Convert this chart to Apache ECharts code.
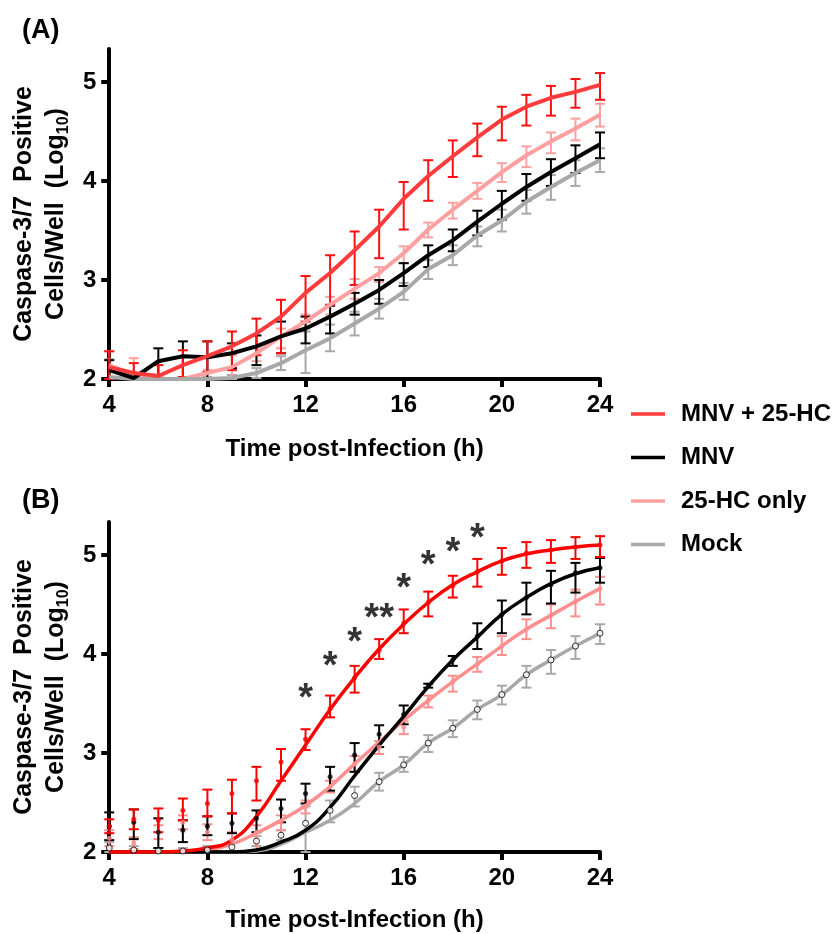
<!DOCTYPE html>
<html><head><meta charset="utf-8">
<script src="https://cdn.jsdelivr.net/npm/echarts@6/dist/echarts.min.js"></script>
<style>html,body{margin:0;padding:0;background:#fff}#c{width:834px;height:934px}</style>
</head><body><div id="c"></div>
<script>
// ---------- data ----------
const hours = [4,5,6,7,8,9,10,11,12,13,14,15,16,17,18,19,20,21,22,23,24];
const xTicks = [4,8,12,16,20,24];
const yTicks = [2,3,4,5];
const groupNames = ['MNV + 25-HC','MNV','25-HC only','Mock'];
const xTitle = 'Time post-Infection (h)';

// Panel A (mean, upper and lower error bar ends)
const aRed   = [2.12,2.06,2.03,2.14,2.23,2.33,2.46,2.63,2.87,3.07,3.30,3.54,3.82,4.05,4.25,4.44,4.62,4.75,4.84,4.90,4.97];
const aRedHi = [2.28,2.16,2.14,2.29,2.38,2.48,2.61,2.80,3.04,3.25,3.49,3.71,3.99,4.21,4.41,4.58,4.75,4.87,4.96,5.03,5.09];
const aRedLo = [2.00,2.00,2.00,2.02,2.07,2.09,2.24,2.26,2.58,2.75,2.95,3.22,3.51,3.80,4.04,4.25,4.41,4.56,4.66,4.74,4.82];
const aMnv   = [2.09,2.01,2.18,2.23,2.22,2.26,2.33,2.43,2.51,2.63,2.76,2.90,3.07,3.25,3.40,3.59,3.77,3.94,4.09,4.23,4.37];
const aMnvHi = [2.19,2.04,2.31,2.38,2.38,2.36,2.44,2.58,2.63,2.74,2.87,3.00,3.17,3.35,3.51,3.70,3.90,4.07,4.22,4.36,4.49];
const aMnvLo = [2.00,2.00,2.04,2.01,2.01,2.11,2.14,2.26,2.36,2.46,2.65,2.76,2.94,3.13,3.29,3.45,3.61,3.80,3.95,4.08,4.23];
const aHc    = [2.14,2.04,2.00,2.00,2.06,2.12,2.26,2.43,2.58,2.75,2.91,3.07,3.27,3.51,3.71,3.90,4.09,4.26,4.40,4.53,4.67];
const aHcHi  = [2.28,2.21,2.02,2.02,2.09,2.24,2.33,2.51,2.65,2.83,3.01,3.13,3.34,3.58,3.78,3.98,4.18,4.35,4.49,4.63,4.78];
const aHcLo  = [2.00,2.00,2.00,2.00,2.00,2.00,2.18,2.31,2.51,2.65,2.81,2.98,3.17,3.43,3.62,3.82,3.99,4.14,4.28,4.41,4.55];
const aMock  = [2.02,2.00,2.00,2.00,2.00,2.01,2.06,2.16,2.29,2.41,2.56,2.71,2.88,3.11,3.25,3.45,3.60,3.79,3.94,4.08,4.21];
const aMockHi= [2.20,2.02,2.02,2.02,2.02,2.04,2.11,2.23,2.48,2.55,2.68,2.81,2.97,3.20,3.35,3.54,3.71,3.91,4.06,4.21,4.33];
const aMockLo= [2.00,2.00,2.00,2.00,2.00,2.00,2.01,2.09,2.06,2.28,2.44,2.61,2.80,3.01,3.15,3.34,3.49,3.67,3.81,3.95,4.09];

// Panel B fitted curves (read at each hour)
const bRedFit  = [2.00,2.00,2.00,2.01,2.04,2.12,2.36,2.72,3.08,3.44,3.76,4.05,4.30,4.52,4.70,4.83,4.94,5.01,5.05,5.08,5.10];
const bMnvFit  = [2.00,2.00,2.00,2.00,2.00,2.00,2.02,2.10,2.22,2.45,2.77,3.08,3.37,3.67,3.94,4.17,4.40,4.57,4.71,4.81,4.87];
const bHcFit   = [2.00,2.00,2.00,2.00,2.02,2.08,2.19,2.32,2.47,2.66,2.89,3.11,3.33,3.53,3.72,3.90,4.08,4.25,4.39,4.53,4.66];
const bMockFit = [2.00,2.00,2.00,2.00,2.00,2.00,2.01,2.08,2.20,2.32,2.49,2.71,2.88,3.10,3.25,3.44,3.59,3.79,3.94,4.08,4.21];
// Panel B measured points
const bRed   = [2.26,2.33,2.32,2.42,2.49,2.59,2.72,2.91,3.14,3.45,3.76,4.04,4.31,4.52,4.69,4.83,4.94,5.02,5.05,5.08,5.10];
const bRedHi = [2.33,2.43,2.44,2.54,2.63,2.73,2.86,3.04,3.24,3.58,3.88,4.15,4.45,4.63,4.79,4.96,5.07,5.13,5.15,5.18,5.19];
const bRedLo = [2.19,2.23,2.20,2.32,2.36,2.39,2.52,2.72,3.03,3.36,3.61,3.95,4.21,4.38,4.57,4.68,4.80,4.87,4.92,4.96,4.98];
const bMnv   = [2.26,2.30,2.20,2.22,2.26,2.29,2.34,2.44,2.59,2.76,2.98,3.19,3.39,3.68,3.94,4.18,4.40,4.57,4.70,4.82,4.87];
const bMnvHi = [2.40,2.43,2.34,2.32,2.36,2.39,2.42,2.53,2.69,2.86,3.10,3.28,3.48,3.70,3.98,4.31,4.54,4.72,4.84,4.92,4.97];
const bMnvLo = [2.12,2.13,2.04,2.10,2.17,2.19,2.20,2.30,2.49,2.62,2.81,3.06,3.29,3.66,3.88,4.05,4.21,4.40,4.51,4.62,4.72];
const bHc    = [2.14,2.09,2.20,2.30,2.20,2.12,2.20,2.30,2.46,2.66,2.89,3.06,3.26,3.53,3.72,3.90,4.08,4.25,4.39,4.53,4.66];
const bHcHi  = [2.22,2.15,2.27,2.37,2.28,2.20,2.27,2.37,2.52,2.72,2.97,3.12,3.32,3.58,3.78,3.97,4.18,4.35,4.50,4.65,4.78];
const bHcLo  = [2.06,2.03,2.13,2.23,2.12,2.00,2.02,2.22,2.39,2.60,2.81,2.99,3.19,3.46,3.62,3.82,3.99,4.15,4.26,4.38,4.50];
const bMock  = [2.04,2.02,2.01,2.01,2.02,2.05,2.11,2.17,2.29,2.42,2.57,2.71,2.88,3.10,3.25,3.44,3.59,3.79,3.94,4.08,4.21];
const bMockHi= [2.10,2.06,2.04,2.04,2.06,2.10,2.16,2.22,2.46,2.52,2.66,2.80,2.96,3.18,3.33,3.53,3.68,3.88,4.04,4.18,4.30];
const bMockLo= [2.00,2.00,2.00,2.00,2.00,2.00,2.06,2.12,2.00,2.30,2.46,2.62,2.81,3.01,3.16,3.34,3.49,3.66,3.80,3.95,4.10];

// significance marks in panel B
const sigHours = [12,13,14,15,16,17,18,19];
const sigLevel = [3.65,3.97,4.22,4.46,4.76,4.99,5.13,5.27];
const sigText  = ['*','*','*','**','*','*','*','*'];

// ---------- helpers ----------
const FONT = '"Liberation Sans", Arial, Helvetica, sans-serif';
const pairs = (ys) => hours.map((h, i) => [h, ys[i]]);
const triples = (lo, hi) => hours.map((h, i) => [h, lo[i], hi[i]]);

function errSeries(name, gi, lo, hi, color, lw, cap) {
  return {
    name: name, type: 'custom', xAxisIndex: gi, yAxisIndex: gi, z: 2,
    data: triples(lo, hi), encode: { x: 0, y: [1, 2] }, silent: true,
    renderItem: function (params, api) {
      const x = api.value(0);
      const p1 = api.coord([x, api.value(1)]);
      const p2 = api.coord([x, api.value(2)]);
      const st = { stroke: color, lineWidth: lw };
      return { type: 'group', children: [
        { type: 'line', shape: { x1: p1[0], y1: p1[1], x2: p2[0], y2: p2[1] }, style: st },
        { type: 'line', shape: { x1: p1[0] - cap, y1: p1[1], x2: p1[0] + cap, y2: p1[1] }, style: st },
        { type: 'line', shape: { x1: p2[0] - cap, y1: p2[1], x2: p2[0] + cap, y2: p2[1] }, style: st }
      ]};
    }
  };
}
function lineSeries(name, gi, ys, color, lw, smooth, z) {
  return { name: name, type: 'line', xAxisIndex: gi, yAxisIndex: gi, data: pairs(ys),
    color: color, showSymbol: false, smooth: smooth, z: z, clip: true,
    lineStyle: { color: color, width: lw }, itemStyle: { color: color } };
}
function dotSeries(name, ys, color, size, border) {
  return { name: name, type: 'scatter', xAxisIndex: 1, yAxisIndex: 1, data: pairs(ys), z: 6,
    symbol: 'circle', symbolSize: size,
    itemStyle: border ? { color: '#fff', borderColor: border, borderWidth: 1 } : { color: color } };
}

function xAxisCfg(gi, gap) {
  return { type: 'value', gridIndex: gi, min: 4, max: 24, interval: 4,
    name: xTitle, nameLocation: 'middle', nameGap: gap,
    nameTextStyle: { fontFamily: FONT, fontWeight: 'bold', fontSize: 24, color: '#000' },
    axisLine: { lineStyle: { color: '#000', width: 4 } },
    axisTick: { length: 8, lineStyle: { color: '#000', width: 4 }, customValues: xTicks },
    axisLabel: { customValues: xTicks, fontFamily: FONT, fontWeight: 'bold', fontSize: 24, color: '#000', margin: 14 },
    splitLine: { show: false } };
}
function yAxisCfg(gi) {
  return { type: 'value', gridIndex: gi, min: 2, max: 5.333,
    name: '{a|Caspase-3/7  Positive}\n{a|Cells/Well  (Log}{s|10}{a|)}',
    nameLocation: 'middle', nameRotate: 90, nameGap: 36,
    nameTextStyle: { color: '#000', lineHeight: 32,
      rich: {
        a: { fontFamily: FONT, fontWeight: 'bold', fontSize: 25, color: '#000', lineHeight: 32 },
        s: { fontFamily: FONT, fontWeight: 'bold', fontSize: 16, color: '#000', lineHeight: 18, verticalAlign: 'bottom' }
      } },
    axisLine: { onZero: false, lineStyle: { color: '#000', width: 4 } },
    axisTick: { length: 8, lineStyle: { color: '#000', width: 4 }, customValues: yTicks },
    axisLabel: { customValues: yTicks, fontFamily: FONT, fontWeight: 'bold', fontSize: 24, color: '#000', margin: 13 },
    splitLine: { show: false } };
}

const cA = { red: '#FF3B3B', redBar: '#FF1010', mnv: '#000000', hc: '#FFA0A0', mock: '#A8A8A8' };
const cB = { red: '#FF0000', mnv: '#000000', hc: '#FF8E8E', mock: '#A8A8A8' };

const series = [
  // Panel A
  errSeries('errA-mock', 0, aMockLo, aMockHi, cA.mock, 2, 5),
  errSeries('errA-hc', 0, aHcLo, aHcHi, cA.hc, 2, 5),
  errSeries('errA-mnv', 0, aMnvLo, aMnvHi, cA.mnv, 2, 5),
  errSeries('errA-red', 0, aRedLo, aRedHi, cA.redBar, 2, 5),
  lineSeries(groupNames[0], 0, aRed, cA.red, 4, false, 5),
  lineSeries(groupNames[1], 0, aMnv, cA.mnv, 4, false, 4),
  lineSeries(groupNames[2], 0, aHc, cA.hc, 4, false, 3),
  lineSeries(groupNames[3], 0, aMock, cA.mock, 4, false, 3),
  // Panel B
  errSeries('errB-mock', 1, bMockLo, bMockHi, cB.mock, 2, 5),
  errSeries('errB-hc', 1, bHcLo, bHcHi, cB.hc, 2, 5),
  errSeries('errB-mnv', 1, bMnvLo, bMnvHi, cB.mnv, 2, 5),
  errSeries('errB-red', 1, bRedLo, bRedHi, cB.red, 2, 5),
  lineSeries(groupNames[3], 1, bMockFit, cB.mock, 3.5, 0.5, 3),
  lineSeries(groupNames[2], 1, bHcFit, cB.hc, 3.5, 0.5, 3),
  lineSeries(groupNames[1], 1, bMnvFit, cB.mnv, 3.5, 0.5, 4),
  lineSeries(groupNames[0], 1, bRedFit, cB.red, 3.5, 0.5, 5),
  dotSeries('ptB-mock', bMock, '#fff', 6, '#000'),
  dotSeries('ptB-hc', bHc, cB.hc, 5, null),
  dotSeries('ptB-mnv', bMnv, cB.mnv, 5, null),
  dotSeries('ptB-red', bRed, cB.red, 5, null),
  { name: 'sig', type: 'scatter', xAxisIndex: 1, yAxisIndex: 1, symbolSize: 0, z: 7, silent: true,
    data: sigHours.map((h, i) => ({ value: [h, sigLevel[i]], name: sigText[i] })),
    label: { show: true, position: 'inside', formatter: (p) => p.name, offset: [0, 11],
      fontFamily: FONT, fontWeight: 'bold', fontSize: 38, color: '#000' } }
];

const chart = echarts.init(document.getElementById('c'), null, { renderer: 'canvas' });
chart.setOption({
  animation: false,
  backgroundColor: '#fff',
  title: [
    { text: '(A)', left: 17, top: 12, textStyle: { fontFamily: FONT, fontWeight: 'bold', fontSize: 27, color: '#000' } },
    { text: '(B)', left: 17, top: 482, textStyle: { fontFamily: FONT, fontWeight: 'bold', fontSize: 27, color: '#000' } }
  ],
  legend: {
    data: groupNames, orient: 'vertical', left: 626, top: 397, itemGap: 19.5,
    icon: 'rect', itemWidth: 34, itemHeight: 3.5, selectedMode: false,
    textStyle: { fontFamily: FONT, fontWeight: 'bold', fontSize: 24, color: '#000', padding: [0, 0, 0, 11] }
  },
  grid: [
    { left: 106, top: 49, width: 494, height: 330 },
    { left: 106, top: 522, width: 494, height: 330 }
  ],
  xAxis: [xAxisCfg(0, 58), xAxisCfg(1, 56)],
  yAxis: [yAxisCfg(0), yAxisCfg(1)],
  series: series
});
</script></body></html>
